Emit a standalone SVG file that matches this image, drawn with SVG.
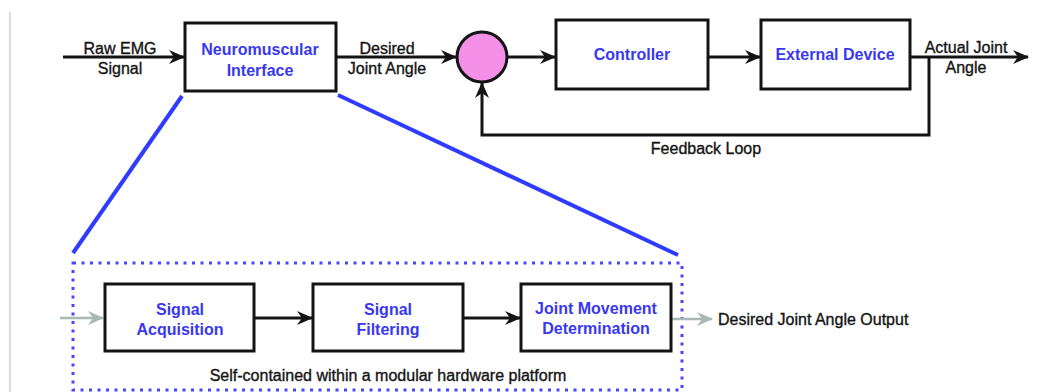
<svg xmlns="http://www.w3.org/2000/svg" width="1049" height="392" viewBox="0 0 1049 392">
<defs>
<style>
.box{fill:#fff;stroke:#141414;stroke-width:3}
.lbl{font-family:"Liberation Sans",Arial,sans-serif;font-size:16px;font-weight:bold;fill:#3838f0;text-anchor:middle}
.txt{font-family:"Liberation Sans",Arial,sans-serif;font-size:16px;fill:#141414;stroke:#141414;stroke-width:0.35;text-anchor:middle}
.ln{fill:none;stroke:#141414;stroke-width:3}
.gl{fill:none;stroke:#a9b8b2;stroke-width:2.5}
.bl{fill:none;stroke:#2f3cff;stroke-width:4}
</style>
<marker id="ah" viewBox="0 0 16 14" refX="15" refY="7" markerWidth="16" markerHeight="14" markerUnits="userSpaceOnUse" orient="auto">
<path d="M0,0 L16,7 L0,14 L5,7 Z" fill="#141414"/>
</marker>
<marker id="ag" viewBox="0 0 16 14" refX="15" refY="7" markerWidth="16" markerHeight="14" markerUnits="userSpaceOnUse" orient="auto">
<path d="M0,0 L16,7 L0,14 L5,7 Z" fill="#a9b8b2"/>
</marker>
</defs>
<rect width="1049" height="392" fill="#fff"/>
<line x1="10" y1="12" x2="10" y2="392" stroke="#d0d0d0" stroke-width="1.5"/>

<g id="zoom-lines">
<line class="bl" x1="182" y1="96" x2="73" y2="253"/>
<line class="bl" x1="338" y1="95" x2="678" y2="255"/>
</g>

<g id="platform">
<rect x="73" y="263" width="609" height="127" fill="none" stroke="#4646ff" stroke-width="3" stroke-dasharray="3 5.5"/>
<text class="txt" x="388" y="381">Self-contained within a modular hardware platform</text>
</g>

<g id="connectors">
<line class="ln" x1="63" y1="57" x2="184" y2="57" marker-end="url(#ah)"/>
<line class="ln" x1="336" y1="57" x2="456" y2="57" marker-end="url(#ah)"/>
<line class="ln" x1="507" y1="57" x2="555" y2="57" marker-end="url(#ah)"/>
<line class="ln" x1="708" y1="57" x2="760" y2="57" marker-end="url(#ah)"/>
<line class="ln" x1="910" y1="57" x2="1028" y2="57" marker-end="url(#ah)"/>
<polyline class="ln" points="929,57 929,135 482,135 482,83" marker-end="url(#ah)"/>
<line class="gl" x1="60" y1="318" x2="103" y2="318" marker-end="url(#ag)"/>
<line class="ln" x1="254" y1="318" x2="312" y2="318" marker-end="url(#ah)"/>
<line class="ln" x1="463" y1="318" x2="520" y2="318" marker-end="url(#ah)"/>
<line class="gl" x1="671" y1="319" x2="712" y2="319" marker-end="url(#ag)"/>
<text class="txt" x="120" y="54">Raw EMG</text>
<text class="txt" x="120" y="74">Signal</text>
<text class="txt" x="387" y="54">Desired</text>
<text class="txt" x="387" y="74">Joint Angle</text>
<text class="txt" x="966" y="53">Actual Joint</text>
<text class="txt" x="966" y="73">Angle</text>
<text class="txt" x="706" y="154">Feedback Loop</text>
<text class="txt" x="718" y="325" style="text-anchor:start">Desired Joint Angle Output</text>
</g>

<g id="neuromuscular">
<rect class="box" x="185" y="23" width="151" height="68"/>
<text class="lbl" x="260" y="55">Neuromuscular</text>
<text class="lbl" x="260" y="76">Interface</text>
</g>

<g id="summing">
<circle cx="482" cy="57" r="25" fill="#f490e8" stroke="#141414" stroke-width="3"/>
</g>

<g id="controller">
<rect class="box" x="556" y="20" width="152" height="69"/>
<text class="lbl" x="632" y="60">Controller</text>
</g>

<g id="external">
<rect class="box" x="761" y="20" width="149" height="69"/>
<text class="lbl" x="835" y="60">External Device</text>
</g>

<g id="acquisition">
<rect class="box" x="105" y="284" width="149" height="67"/>
<text class="lbl" x="180" y="315">Signal</text>
<text class="lbl" x="180" y="335">Acquisition</text>
</g>

<g id="filtering">
<rect class="box" x="313" y="284" width="150" height="67"/>
<text class="lbl" x="388" y="315">Signal</text>
<text class="lbl" x="388" y="335">Filtering</text>
</g>

<g id="joint">
<rect class="box" x="521" y="284" width="150" height="67"/>
<text class="lbl" x="596" y="314">Joint Movement</text>
<text class="lbl" x="596" y="334">Determination</text>
</g>
</svg>
